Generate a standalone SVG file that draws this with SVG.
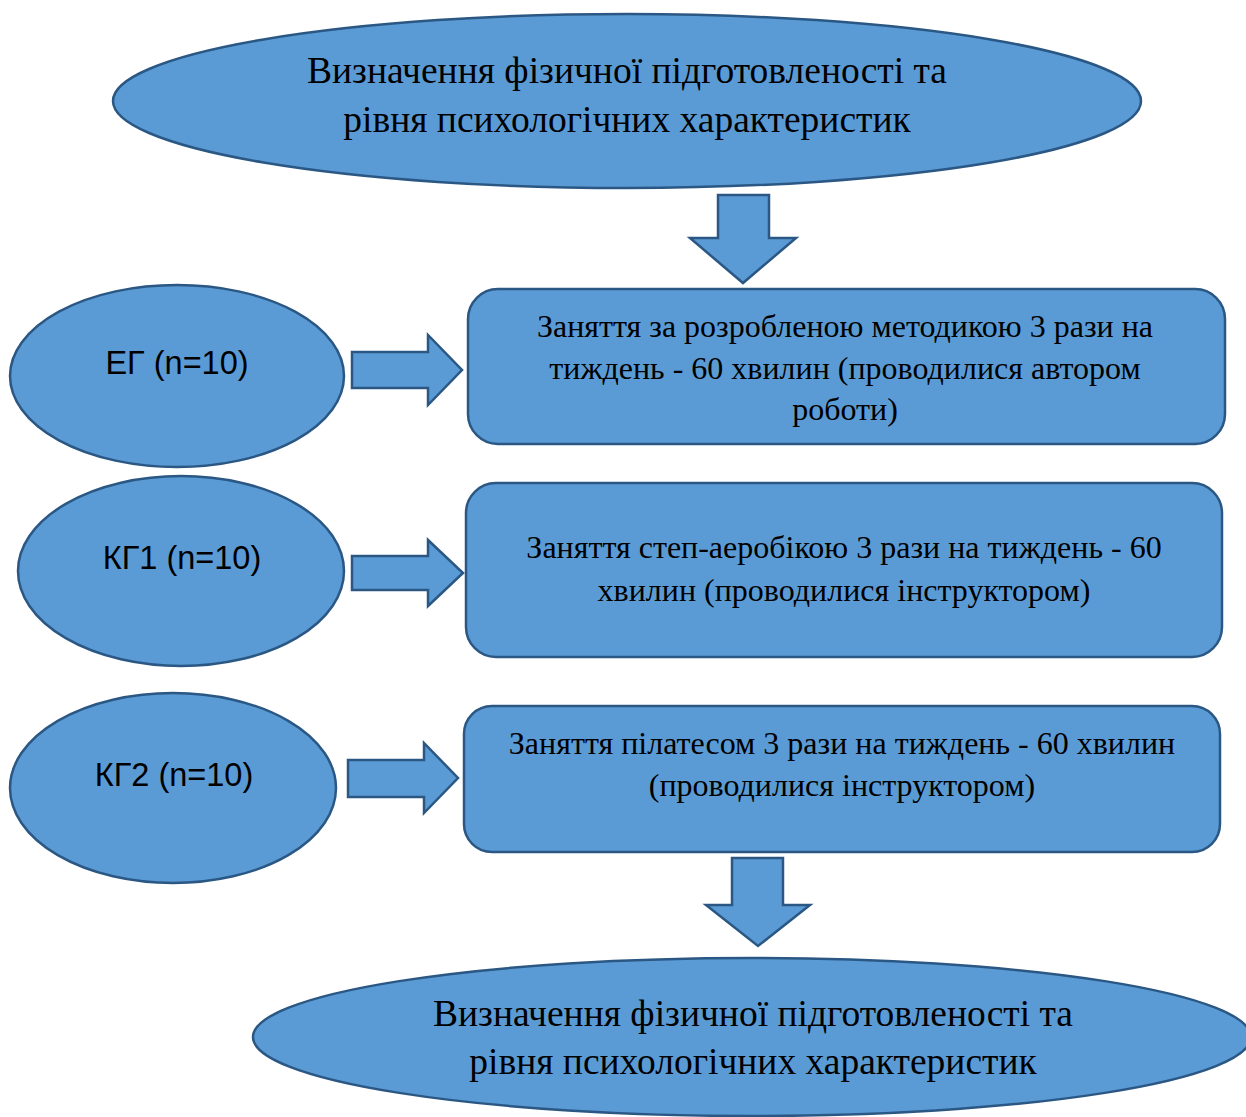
<svg xmlns="http://www.w3.org/2000/svg" width="1246" height="1117" viewBox="0 0 1246 1117">
<style>
.s{fill:#5B9BD5;stroke:#2A5783;stroke-width:2.5}
.t{font-family:"Liberation Serif",serif;fill:#000;text-anchor:middle}
.big{font-size:37.5px}
.mid{font-size:32px}
.lab{font-family:"Liberation Sans",Arial,sans-serif;font-size:32.5px;fill:#000;text-anchor:middle}
</style>
<rect width="1246" height="1117" fill="#fff"/>
<g id="top">
<ellipse class="s" cx="627" cy="101" rx="514" ry="87"/>
<text class="t big" x="627" y="83">Визначення фізичної підготовленості та</text>
<text class="t big" x="627" y="132">рівня психологічних характеристик</text>
</g>
<g id="eg">
<ellipse class="s" cx="177" cy="376" rx="167" ry="91"/>
<text class="lab" x="177" y="374">ЕГ (n=10)</text>
</g>
<g id="kg1">
<ellipse class="s" cx="181" cy="571" rx="163" ry="95"/>
<text class="lab" x="182" y="569">КГ1 (n=10)</text>
</g>
<g id="kg2">
<ellipse class="s" cx="173" cy="788" rx="163" ry="95"/>
<text class="lab" x="174" y="786">КГ2 (n=10)</text>
</g>
<g id="box1">
<rect class="s" x="468" y="289" width="757" height="155" rx="30"/>
<text class="t mid" x="845" y="337">Заняття за розробленою методикою 3 рази на</text>
<text class="t mid" x="845" y="379">тиждень - 60 хвилин (проводилися автором</text>
<text class="t mid" x="845" y="420">роботи)</text>
</g>
<g id="box2">
<rect class="s" x="466" y="483" width="756" height="174" rx="30"/>
<text class="t mid" x="844" y="558">Заняття степ-аеробікою 3 рази на тиждень - 60</text>
<text class="t mid" x="844" y="601">хвилин (проводилися інструктором)</text>
</g>
<g id="box3">
<rect class="s" x="464" y="706" width="756" height="146" rx="28"/>
<text class="t mid" x="842" y="754">Заняття пілатесом 3 рази на тиждень - 60 хвилин</text>
<text class="t mid" x="842" y="796">(проводилися інструктором)</text>
</g>
<g id="bottom">
<ellipse class="s" cx="752" cy="1037" rx="499" ry="79"/>
<text class="t big" x="753" y="1026">Визначення фізичної підготовленості та</text>
<text class="t big" x="753" y="1074">рівня психологічних характеристик</text>
</g>
<g id="connectors">
<polygon class="s" points="718,195 769,195 769,238 796,238 743,283 690,238 718,238"/>
<polygon class="s" points="352,352 428,352 428,335 462,370 428,405 428,388 352,388"/>
<polygon class="s" points="352,556 428,556 428,540 463,573 428,606 428,590 352,590"/>
<polygon class="s" points="348,760 424,760 424,743 458,778 424,813 424,797 348,797"/>
<polygon class="s" points="732,858 783,858 783,905 810,905 758,946 706,905 732,905"/>
</g>
</svg>
